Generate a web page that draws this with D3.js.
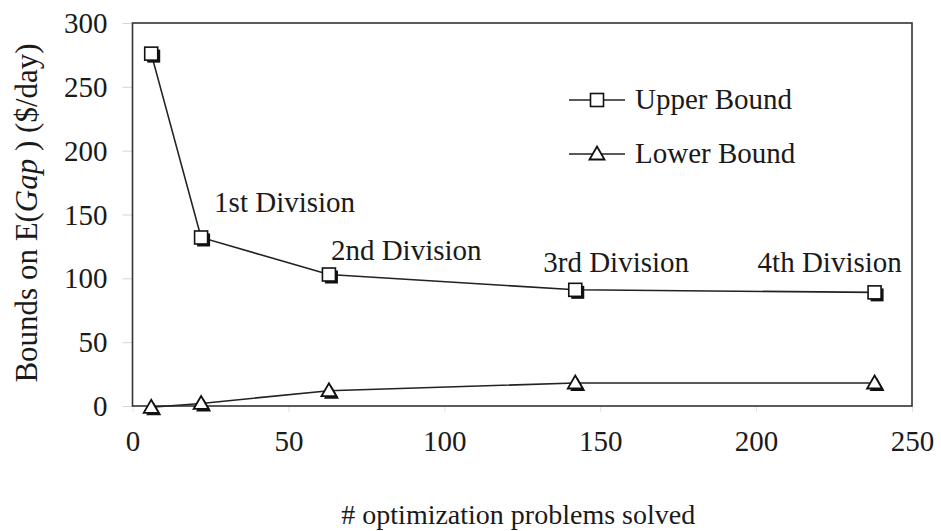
<!DOCTYPE html>
<html lang="en">
<head>
<meta charset="UTF-8">
<title>Bounds on E(Gap)</title>
<script src="https://cdn.jsdelivr.net/npm/d3@7"></script>
<style>
  html, body { margin: 0; padding: 0; background: #fff; }
</style>
</head>
<body>
<div id="root"></div>
<script>
// data
var problemsSolved = [6, 22, 63, 142, 238];
var upperBound = [276, 132, 103, 91, 89];
var lowerBound = [-1, 2, 12, 18, 18];
var divisionLabels = ["1st Division", "2nd Division", "3rd Division", "4th Division"];
var xTicks = [0, 50, 100, 150, 200, 250];
var yTicks = [0, 50, 100, 150, 200, 250, 300];
var seriesNames = ["Upper Bound", "Lower Bound"];

var width = 941, height = 531;
var plotLeft = 132.5, plotRight = 912, plotTop = 23, plotBottom = 406;
var serif = "'Liberation Serif', 'Times New Roman', Times, serif";

var svg = d3.select("#root").append("svg")
    .attr("width", width)
    .attr("height", height)
    .style("font-family", serif);

var x = d3.scaleLinear().domain([0, 250]).range([plotLeft, plotRight]);
var y = d3.scaleLinear().domain([0, 300]).range([plotBottom, plotTop]);

// faint ticks
var yAxis = d3.axisLeft(y).tickValues(yTicks).tickSize(10).tickFormat(function(d){ return d; });
var gy = svg.append("g").attr("transform", "translate(" + plotLeft + ",0)").call(yAxis)
    .attr("font-family", serif);
gy.select(".domain").remove();
gy.selectAll(".tick line").attr("stroke", "#d6d6d6");
gy.selectAll(".tick text")
    .attr("x", -25)
    .attr("dy", "0.33em")
    .attr("fill", "#1a1a1a")
    .style("font-family", serif)
    .style("font-size", "29px");

var xAxis = d3.axisBottom(x).tickValues(xTicks).tickSize(6).tickFormat(function(d){ return d; });
var gx = svg.append("g").attr("transform", "translate(0," + plotBottom + ")").call(xAxis)
    .attr("font-family", serif);
gx.select(".domain").remove();
gx.selectAll(".tick line").attr("stroke", "#e4e4e4");
gx.selectAll(".tick text")
    .attr("y", 45)
    .attr("dy", 0)
    .attr("fill", "#1a1a1a")
    .style("font-family", serif)
    .style("font-size", "29px");

// frame
svg.append("rect")
    .attr("x", plotLeft).attr("y", plotTop)
    .attr("width", plotRight - plotLeft).attr("height", plotBottom - plotTop)
    .attr("fill", "none")
    .attr("stroke", "#333")
    .attr("stroke-width", 1.6);

var upperPts = problemsSolved.map(function(d, i){ return [d, upperBound[i]]; });
var lowerPts = problemsSolved.map(function(d, i){ return [d, lowerBound[i]]; });

var line = d3.line().x(function(d){ return x(d[0]); }).y(function(d){ return y(d[1]); });

svg.append("path").datum(upperPts).attr("d", line)
    .attr("fill", "none").attr("stroke", "#222").attr("stroke-width", 1.6);
svg.append("path").datum(lowerPts).attr("d", line)
    .attr("fill", "none").attr("stroke", "#222").attr("stroke-width", 1.6);

var sq = 13, sh = 2.5;
function squareMarker(g, cx, cy, shadow) {
    if (shadow) {
        g.append("rect").attr("x", cx - sq / 2 + sh).attr("y", cy - sq / 2 + sh)
            .attr("width", sq).attr("height", sq).attr("fill", "#111");
    }
    g.append("rect").attr("x", cx - sq / 2).attr("y", cy - sq / 2)
        .attr("width", sq).attr("height", sq)
        .attr("fill", "#fff").attr("stroke", "#111").attr("stroke-width", 1.6);
}
var tw = 15, th = 13;
function triPath(cx, cy) {
    return "M" + cx + "," + (cy - th / 2) + "L" + (cx + tw / 2) + "," + (cy + th / 2) +
        "L" + (cx - tw / 2) + "," + (cy + th / 2) + "Z";
}
function triMarker(g, cx, cy, shadow) {
    if (shadow) {
        g.append("path").attr("d", triPath(cx + sh, cy + sh)).attr("fill", "#111");
    }
    g.append("path").attr("d", triPath(cx, cy))
        .attr("fill", "#fff").attr("stroke", "#111").attr("stroke-width", 1.8)
        .attr("stroke-linejoin", "miter");
}

var markers = svg.append("g");
upperPts.forEach(function(d){ squareMarker(markers, x(d[0]), y(d[1]), true); });
lowerPts.forEach(function(d){ triMarker(markers, x(d[0]), y(d[1]) - 1, true); });

// division labels next to the upper bound points 2..5
var labelOffsets = [[13, -25], [2, -15], [-32, -18], [-117, -20]];
divisionLabels.forEach(function(t, i){
    var p = upperPts[i + 1];
    svg.append("text")
        .attr("x", x(p[0]) + labelOffsets[i][0])
        .attr("y", y(p[1]) + labelOffsets[i][1])
        .attr("fill", "#1a1a1a")
        .style("font-size", "29px")
        .text(t);
});

// legend
var legend = svg.append("g");
var legendY = [100, 154];
seriesNames.forEach(function(name, i){
    legend.append("line")
        .attr("x1", 569).attr("x2", 625)
        .attr("y1", legendY[i]).attr("y2", legendY[i])
        .attr("stroke", "#222").attr("stroke-width", 1.6);
    if (i === 0) squareMarker(legend, 597, legendY[i], false);
    else triMarker(legend, 597, legendY[i] - 1, false);
    legend.append("text")
        .attr("x", 635).attr("y", legendY[i] + 9)
        .attr("fill", "#1a1a1a")
        .style("font-size", "29px")
        .text(name);
});

// axis titles
svg.append("text")
    .attr("x", (plotLeft + plotRight) / 2 - 4).attr("y", 524)
    .attr("text-anchor", "middle")
    .attr("fill", "#1a1a1a")
    .style("font-size", "28px")
    .text("# optimization problems solved");

var yt = svg.append("text")
    .attr("transform", "translate(37,213) rotate(-90)")
    .attr("text-anchor", "middle")
    .attr("fill", "#1a1a1a")
    .style("font-size", "31px");
yt.append("tspan").text("Bounds on E(");
yt.append("tspan").style("font-style", "italic").text("Gap");
yt.append("tspan").text(" ) ($/day)");
</script>
</body>
</html>
